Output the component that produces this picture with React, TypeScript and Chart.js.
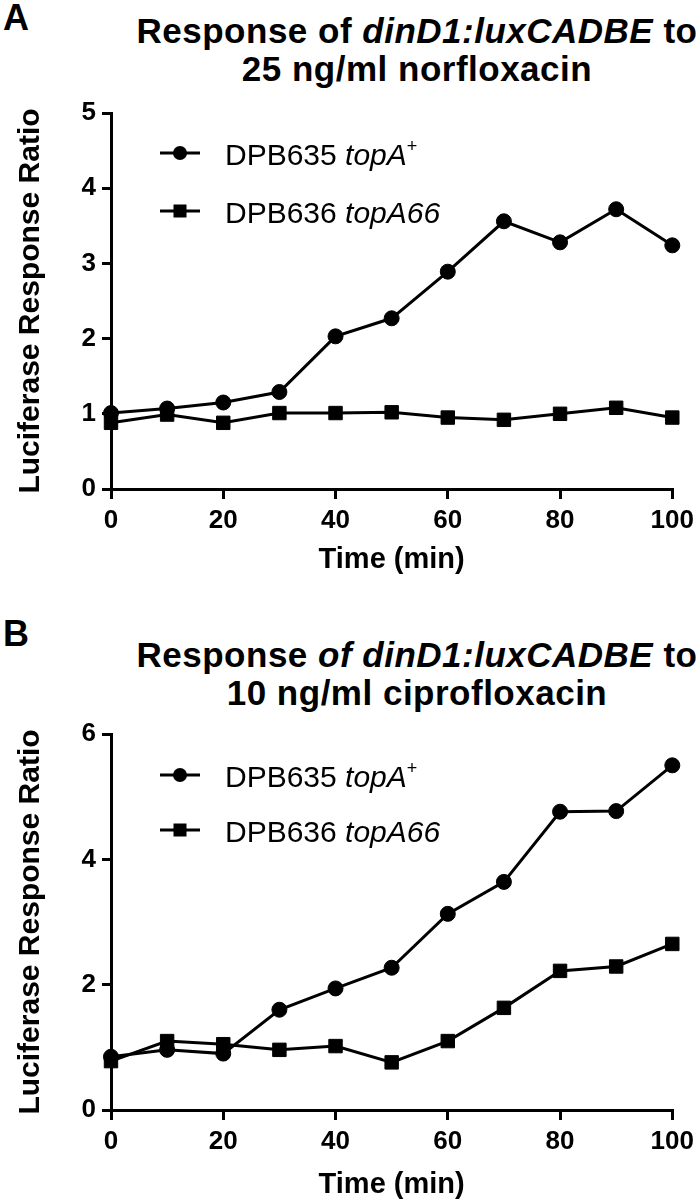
import React, { useEffect, useRef } from "react";
import { Chart, registerables } from "chart.js";

Chart.register(...registerables);

// ---- data ----
const timeMin = [0, 10, 20, 30, 40, 50, 60, 70, 80, 90, 100];

// Panel A: 25 ng/ml norfloxacin
const norfloxTopAPlus = [1.01, 1.07, 1.15, 1.29, 2.03, 2.27, 2.89, 3.56, 3.28, 3.72, 3.24];
const norfloxTopA66 = [0.88, 0.99, 0.88, 1.01, 1.01, 1.02, 0.95, 0.92, 1.0, 1.08, 0.95];

// Panel B: 10 ng/ml ciprofloxacin
const ciproTopAPlus = [0.85, 0.96, 0.9, 1.6, 1.94, 2.27, 3.13, 3.64, 4.76, 4.77, 5.5];
const ciproTopA66 = [0.78, 1.1, 1.05, 0.96, 1.02, 0.76, 1.1, 1.63, 2.22, 2.29, 2.65];

const strainNames = ["DPB635", "DPB636"];
const alleleNames = ["topA", "topA66"];
const xTitleText = "Time (min)";
const yTitleText = "Luciferase Response Ratio";

const FONT = '"Liberation Sans", Arial, Helvetica, sans-serif';

type Part = { text: string; italic?: boolean; sup?: boolean };
type Row = { y: number; marker: "circle" | "rect"; parts: Part[] };

function makeLegendPlugin(rows: Row[]) {
  return {
    id: "customLegend",
    afterDraw(chart: any) {
      const ctx: CanvasRenderingContext2D = chart.ctx;
      const x0 = 160;
      const x1 = 200;
      const textX = 225;
      rows.forEach((r) => {
        ctx.save();
        ctx.strokeStyle = "#000";
        ctx.lineWidth = 3;
        ctx.beginPath();
        ctx.moveTo(x0, r.y);
        ctx.lineTo(x1, r.y);
        ctx.stroke();
        ctx.fillStyle = "#000";
        const cx = (x0 + x1) / 2;
        if (r.marker === "circle") {
          ctx.beginPath();
          ctx.arc(cx, r.y, 7, 0, Math.PI * 2);
          ctx.fill();
        } else {
          ctx.fillRect(cx - 6.5, r.y - 6.5, 13, 13);
        }
        let x = textX;
        const base = r.y + 12;
        ctx.textAlign = "left";
        ctx.textBaseline = "alphabetic";
        r.parts.forEach((p) => {
          ctx.font = `${p.italic ? "italic " : ""}${p.sup ? 18 : 30}px ${FONT}`;
          ctx.fillText(p.text, x, p.sup ? base - 13 : base);
          x += ctx.measureText(p.text).width;
        });
        ctx.restore();
      });
    },
  };
}

function legendRows(y1: number, y2: number): Row[] {
  return [
    {
      y: y1,
      marker: "circle",
      parts: [{ text: strainNames[0] + " " }, { text: alleleNames[0], italic: true }, { text: "+", sup: true }],
    },
    {
      y: y2,
      marker: "rect",
      parts: [{ text: strainNames[1] + " " }, { text: alleleNames[1], italic: true }],
    },
  ];
}

type PanelProps = {
  top: number;
  circle: number[];
  square: number[];
  yMax: number;
  yStep: number;
  xTitlePad: number;
  legendY: [number, number];
};

function Panel({ top, circle, square, yMax, yStep, xTitlePad, legendY }: PanelProps) {
  const ref = useRef<HTMLCanvasElement>(null);
  useEffect(() => {
    const tickFont = { family: FONT, size: 26, weight: "bold" as const };
    const chart = new Chart(ref.current!, {
      type: "line",
      data: {
        datasets: [
          {
            data: timeMin.map((t, i) => ({ x: t, y: circle[i] })),
            borderColor: "#000",
            backgroundColor: "#000",
            borderWidth: 3,
            pointStyle: "circle",
            pointRadius: 7.5,
            pointBorderWidth: 1,
            pointBorderColor: "#000",
            pointBackgroundColor: "#000",
            tension: 0,
            clip: false as any,
          },
          {
            data: timeMin.map((t, i) => ({ x: t, y: square[i] })),
            borderColor: "#000",
            backgroundColor: "#000",
            borderWidth: 3,
            pointStyle: "rect",
            pointRadius: 9.5,
            pointBorderWidth: 1,
            pointBorderColor: "#000",
            pointBackgroundColor: "#000",
            tension: 0,
            clip: false as any,
          },
        ],
      },
      options: {
        responsive: false,
        animation: false,
        devicePixelRatio: 1,
        layout: { padding: { top: 113, left: 0, right: 21, bottom: 11 } },
        plugins: { legend: { display: false }, tooltip: { enabled: false } },
        scales: {
          x: {
            type: "linear",
            min: 0,
            max: 100,
            ticks: { stepSize: 20, font: tickFont, color: "#000", padding: 6, maxRotation: 0 },
            grid: { drawOnChartArea: false, drawTicks: true, tickLength: 10, lineWidth: 3, color: "#000" },
            border: { display: true, color: "#000", width: 3 },
            title: {
              display: true,
              text: xTitleText,
              color: "#000",
              font: { family: FONT, size: 29, weight: "bold", lineHeight: 1 },
              padding: { top: 0, bottom: xTitlePad },
            },
            afterFit: (s: any) => {
              s.height = 100;
            },
          },
          y: {
            type: "linear",
            min: 0,
            max: yMax,
            ticks: { stepSize: yStep, font: tickFont, color: "#000", padding: 6 },
            grid: { drawOnChartArea: false, drawTicks: true, tickLength: 9, lineWidth: 3, color: "#000" },
            border: { display: true, color: "#000", width: 3 },
            title: {
              display: true,
              text: yTitleText,
              color: "#000",
              font: { family: FONT, size: 30, weight: "bold", lineHeight: 1 },
              padding: { top: 16, bottom: 0 },
            },
            afterFit: (s: any) => {
              s.width = 111;
            },
          },
        },
      },
      plugins: [makeLegendPlugin(legendRows(legendY[0], legendY[1]))],
    } as any);
    return () => chart.destroy();
  }, []);
  return (
    <canvas
      ref={ref}
      width={700}
      height={600}
      style={{ position: "absolute", left: 0, top, width: 700, height: 600 }}
    />
  );
}

const letterStyle: React.CSSProperties = {
  position: "absolute",
  left: 3,
  fontFamily: FONT,
  fontWeight: "bold",
  fontSize: 36,
  lineHeight: "36px",
  color: "#000",
};

const titleStyle: React.CSSProperties = {
  position: "absolute",
  left: 117,
  width: 600,
  textAlign: "center",
  fontFamily: FONT,
  fontWeight: "bold",
  fontSize: 35,
  lineHeight: "38px",
  letterSpacing: "0.5px",
  color: "#000",
  whiteSpace: "nowrap",
};

export default function App() {
  return (
    <div
      style={{
        position: "absolute",
        left: 0,
        top: 0,
        width: 700,
        height: 1201,
        overflow: "hidden",
        background: "#fff",
      }}
    >
      <div style={{ ...letterStyle, top: 0 }}>A</div>
      <div style={{ ...titleStyle, top: 12 }}>
        Response of <i>dinD1:luxCADBE</i> to
        <br />
        25 ng/ml norfloxacin
      </div>
      <Panel
        top={0}
        circle={norfloxTopAPlus}
        square={norfloxTopA66}
        yMax={5}
        yStep={1}
        xTitlePad={14.4}
        legendY={[153, 211]}
      />

      <div style={{ ...letterStyle, top: 616 }}>B</div>
      <div style={{ ...titleStyle, top: 636 }}>
        Response <i>of dinD1:luxCADBE</i> to
        <br />
        10 ng/ml ciprofloxacin
      </div>
      <Panel
        top={621}
        circle={ciproTopAPlus}
        square={ciproTopA66}
        yMax={6}
        yStep={2}
        xTitlePad={10.4}
        legendY={[154, 209]}
      />
    </div>
  );
}
